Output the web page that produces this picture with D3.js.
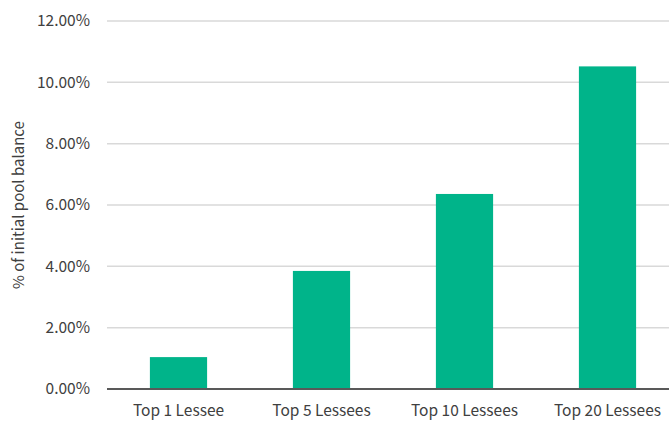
<!DOCTYPE html>
<html>
<head>
<meta charset="utf-8">
<script src="https://cdn.jsdelivr.net/npm/d3@7"></script>
<style>
  html, body { margin: 0; padding: 0; background: #fff; }
  svg { display: block; }
  text { font-family: "Noto Sans CJK KR", "Noto Sans", sans-serif; fill: #404040; }
</style>
</head>
<body>
<svg id="chart" width="669" height="421"></svg>
<script>
// Share of initial pool balance held by the largest lessees
const categories = ["Top 1 Lessee", "Top 5 Lessees", "Top 10 Lessees", "Top 20 Lessees"];
const values = [1.04, 3.85, 6.36, 10.52];
const yTicks = [0, 2, 4, 6, 8, 10, 12];
const yTitle = "% of initial pool balance";

const svg = d3.select("#chart");
const plotLeft = 107, plotRight = 679, plotTop = 21, plotBottom = 389;
const fontStack = '"Noto Sans CJK KR", "Noto Sans", sans-serif';

const x = d3.scaleBand()
  .domain(categories)
  .range([plotLeft, plotRight])
  .paddingInner(0.6)
  .paddingOuter(0.3);

const y = d3.scaleLinear().domain([0, 12]).range([plotBottom, plotTop]);

// horizontal gridlines
svg.append("g")
  .selectAll("line")
  .data(yTicks.filter(t => t > 0))
  .join("line")
  .attr("x1", plotLeft).attr("x2", 669)
  .attr("y1", d => y(d)).attr("y2", d => y(d))
  .attr("stroke", "#d9d9d9")
  .attr("stroke-width", 1.5);

// y axis labels
const yAxis = d3.axisLeft(y)
  .tickValues(yTicks)
  .tickFormat(d => d.toFixed(2) + "%")
  .tickSize(0)
  .tickPadding(17);
const gy = svg.append("g").attr("transform", `translate(${plotLeft},0)`).call(yAxis);
gy.select(".domain").remove();
gy.selectAll("text").style("font-size", "15.5px").attr("fill", "#404040")
  .style("font-family", fontStack);

// bars
svg.append("g")
  .selectAll("rect")
  .data(values)
  .join("rect")
  .attr("x", (d, i) => x(categories[i]))
  .attr("width", x.bandwidth())
  .attr("y", d => y(d))
  .attr("height", d => y(0) - y(d))
  .attr("fill", "#00b48a");

// category labels
const xAxis = d3.axisBottom(x).tickSize(0).tickPadding(16);
const gx = svg.append("g").attr("transform", `translate(0,${plotBottom})`).call(xAxis);
gx.select(".domain").remove();
gx.selectAll("text").style("font-size", "15.5px").attr("fill", "#404040")
  .style("font-family", fontStack);

// baseline
svg.append("line")
  .attr("x1", plotLeft).attr("x2", 669)
  .attr("y1", y(0)).attr("y2", y(0))
  .attr("stroke", "#595959")
  .attr("stroke-width", 2);

// axis title
svg.append("text")
  .attr("transform", `translate(24,${(plotTop + plotBottom) / 2}) rotate(-90)`)
  .attr("text-anchor", "middle")
  .style("font-size", "15px")
  .text(yTitle);
</script>
</body>
</html>
